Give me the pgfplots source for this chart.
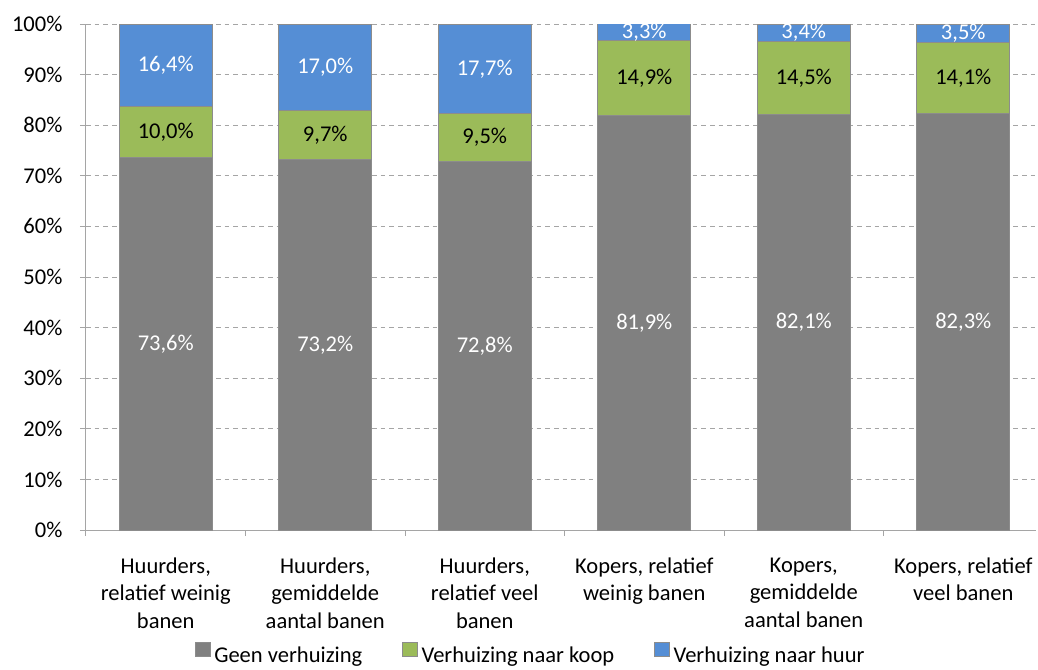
\documentclass[border=0pt]{standalone}
\usepackage{pgfplots}
\pgfplotsset{compat=1.18}
\usepackage{pgfplotstable}
\usepackage{fontspec}
\setmainfont{Carlito}
\definecolor{cgray}{RGB}{128,128,128}
\definecolor{cgreen}{RGB}{155,187,89}
\definecolor{cblue}{RGB}{85,142,213}
\definecolor{cedge}{RGB}{140,140,140}
\definecolor{caxis}{RGB}{165,165,165}
\pgfplotstableread{
x geen koop huur
0 73.6 10.0 16.4
1 73.2 9.7 17.0
2 72.8 9.5 17.7
3 81.9 14.9 3.3
4 82.1 14.5 3.4
5 82.3 14.1 3.5
}\data
\pgfplotsset{
  common/.style={
    scale only axis, width=712.5pt, height=379.5pt,
    xmin=-0.5, xmax=5.456, ymin=0, ymax=100,
  },
  lbl/.style={draw=none, mark=none, point meta=explicit,
    nodes near coords={\pgfmathprintnumber[fixed,fixed zerofill,precision=1,use comma,assume math mode=true]{\pgfplotspointmeta}\%},
    every node near coord/.append style={anchor=center, inner sep=0pt, text=#1}},
}
\begin{document}
\fontsize{16.9}{20.6}\selectfont
\begin{tikzpicture}
\begin{axis}[common, name=ax,
  ybar stacked, bar width=0.583,
  axis lines=left, axis line style={draw=caxis, line width=0.75pt, -},
  tick align=outside, major tick length=4.5pt, minor tick length=4.5pt,
  tick style={draw=caxis, line width=0.75pt},
  xtick={0,...,5},
  major x tick style={draw=none},
  minor xtick={-0.5,0.5,...,4.5},
  xticklabels={{Huurders,\\relatief weinig\\banen},{Huurders,\\gemiddelde\\aantal banen},{Huurders,\\relatief veel\\banen},{Kopers, relatief\\weinig banen},{Kopers,\\gemiddelde\\aantal banen},{Kopers, relatief\\veel banen}},
  xticklabel style={align=center, inner sep=0pt, anchor=north, yshift=-16pt},
  ytick={0,10,...,100},
  yticklabels={0\%,10\%,20\%,30\%,40\%,50\%,60\%,70\%,80\%,90\%,100\%},
  yticklabel style={inner sep=0pt, anchor=east, xshift=-13pt},
  ymajorgrids, major grid style={draw=caxis, line width=0.75pt, dash pattern=on 3.5pt off 3pt},
  legend style={draw=none, at={(0.1147,-0.221)}, anchor=north west, legend columns=3,
    inner sep=0pt, outer sep=0pt,
    /tikz/every even column/.append style={column sep=30pt},
    /tikz/every odd column/.append style={column sep=3pt},
    nodes={inner sep=0pt}},
  legend image code/.code={\draw[#1, line width=0.5pt] (0pt,0pt) rectangle (11pt,10.5pt);},
]
\addplot[fill=cgray, draw=cedge, line width=0.75pt] table[x=x, y=geen]{\data};
\addlegendentry{Geen verhuizing}
\addplot[fill=cgreen, draw=cedge, line width=0.75pt] table[x=x, y=koop]{\data};
\addlegendentry{Verhuizing naar koop}
\addplot[fill=cblue, draw=cedge, line width=0.75pt] table[x=x, y=huur]{\data};
\addlegendentry{Verhuizing naar huur}
\end{axis}
\begin{axis}[common, hide axis]
\addplot[lbl=white] table[x=x, y expr=\thisrow{geen}/2, meta=geen]{\data};
\addplot[lbl=black] table[x=x, y expr=\thisrow{geen}+\thisrow{koop}/2, meta=koop]{\data};
\addplot[lbl=white] table[x=x, y expr=\thisrow{geen}+\thisrow{koop}+\thisrow{huur}/2, meta=huur]{\data};
\end{axis}
\pgfresetboundingbox
\path (ax.south west) ++(-64.5pt,-104.25pt) rectangle ++(778.5pt,501.75pt);
\end{tikzpicture}
\end{document}
